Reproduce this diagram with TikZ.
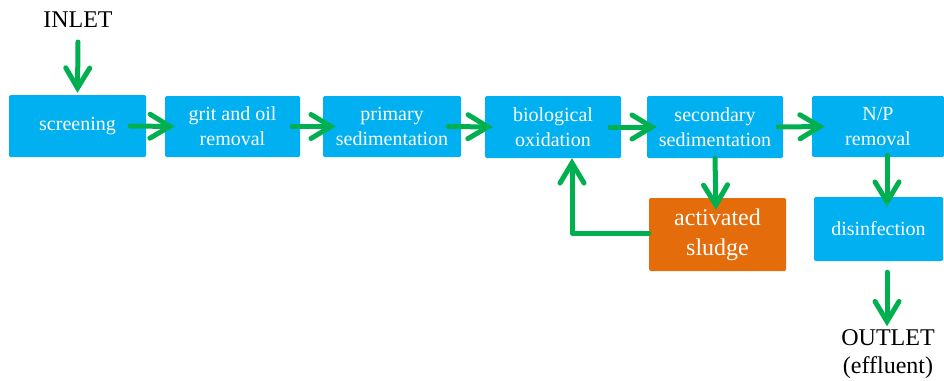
\documentclass[tikz,border=0pt]{standalone}
\usepackage{fontspec}
\setmainfont{Liberation Serif}
\usetikzlibrary{arrows.meta}
\definecolor{boxblue}{HTML}{00B0F0}
\definecolor{flowgreen}{HTML}{00B050}
\definecolor{sludgeorange}{HTML}{E46C0A}
\tikzset{
  procbox/.style={fill=boxblue, draw=none, rounded corners=1.5pt, text=white, align=center,
    inner sep=0pt, font=\fontsize{20}{25}\selectfont},
  sludgebox/.style={fill=sludgeorange, draw=none, rounded corners=1.5pt, text=white, align=center,
    inner sep=0pt, font=\fontsize{24}{30}\selectfont},
  label/.style={text=black, align=center, inner sep=0pt, font=\fontsize{24}{28}\selectfont},
  flow/.style={draw=flowgreen, line width=5pt, line cap=round, line join=round,
    -{Straight Barb[length=20pt,width=24pt,line cap=round,line join=miter]}},
}
\begin{document}
\begin{tikzpicture}[x=1pt,y=-1pt]
\useasboundingbox (0,0) rectangle (944,380);
% boxes
\node[procbox, minimum width=137pt, minimum height=62pt] (scr) at (77.5,126) {screening};
\node[procbox, minimum width=135pt, minimum height=61pt] (grit) at (232.5,126.5) {grit and oil\\removal};
\node[procbox, minimum width=138pt, minimum height=61pt] (prim) at (392,126.5) {primary\\sedimentation};
\node[procbox, minimum width=136pt, minimum height=62pt] (bio) at (553,127) {biological\\oxidation};
\node[procbox, minimum width=136pt, minimum height=62pt] (sec) at (715,127) {secondary\\sedimentation};
\node[procbox, minimum width=132pt, minimum height=61pt] (np) at (878,126.5) {N/P\\removal};
\node[procbox, minimum width=129pt, minimum height=64pt] (dis) at (878.5,229) {disinfection};
\node[sludgebox, minimum width=137pt, minimum height=73pt] (sl) at (717.5,234.5) {activated\\sludge};
% labels
\node[label] (inlet) at (78,20) {INLET};
\node[label] (outlet) at (888,354) {OUTLET\\(effluent)};
% connectors
\coordinate (inA) at (78,42);
\draw[flow] (inA) -- ([yshift=2pt]scr.north);
\draw[flow] ([xshift=-16pt]scr.east) -- ([xshift=10pt]grit.west);
\draw[flow] ([xshift=-8pt]grit.east) -- ([xshift=13pt]prim.west);
\draw[flow] ([xshift=-13pt]prim.east) -- ([xshift=8pt]bio.west);
\draw[flow] ([xshift=-11pt]bio.east) -- ([xshift=10pt]sec.west);
\draw[flow] ([xshift=-5pt]sec.east) -- ([xshift=13pt]np.west);
\draw[flow] ([xshift=9pt,yshift=2pt]np.south) -- ([xshift=8.5pt,yshift=-10pt]dis.north);
\draw[flow] ([xshift=8.5pt,yshift=-11pt]dis.south) -- ([xshift=-1pt,yshift=3pt]outlet.north);
\draw[flow] (sec.south) -- ([xshift=-1.5pt,yshift=-12pt]sl.north);
\draw[flow] ([yshift=1.5pt]sl.west) -| ([xshift=19pt]bio.south);
\end{tikzpicture}
\end{document}
